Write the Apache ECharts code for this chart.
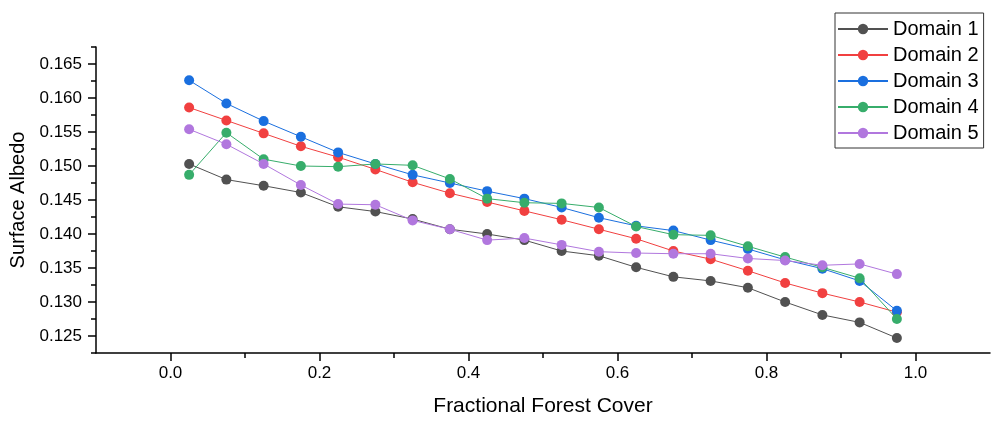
<!DOCTYPE html>
<html>
<head>
<meta charset="utf-8">
<script src="https://cdn.jsdelivr.net/npm/echarts@6/dist/echarts.min.js"></script>
<style>
  html, body { margin: 0; padding: 0; background: #fff; }
  #chart { width: 993px; height: 427px; }
</style>
</head>
<body>
<div id="chart"></div>
<script>
// Fractional forest cover bin centres
const coverBins = [0.025, 0.075, 0.125, 0.175, 0.225, 0.275, 0.325, 0.375, 0.425, 0.475,
                   0.525, 0.575, 0.625, 0.675, 0.725, 0.775, 0.825, 0.875, 0.925, 0.975];

// Mean surface albedo per bin, one array per domain
const domain1 = [0.1503, 0.1480, 0.1471, 0.1461, 0.1440, 0.1433, 0.1422, 0.1407, 0.1400, 0.1391,
                 0.1375, 0.1368, 0.1351, 0.1337, 0.1331, 0.1321, 0.1300, 0.1281, 0.1270, 0.1247];
const domain2 = [0.1586, 0.1567, 0.1548, 0.1529, 0.1513, 0.1495, 0.1476, 0.1460, 0.1447, 0.1434,
                 0.1421, 0.1407, 0.1393, 0.1375, 0.1363, 0.1346, 0.1328, 0.1313, 0.1300, 0.1285];
const domain3 = [0.1626, 0.1592, 0.1566, 0.1543, 0.1520, 0.1503, 0.1487, 0.1475, 0.1463, 0.1452,
                 0.1439, 0.1424, 0.1412, 0.1405, 0.1391, 0.1378, 0.1362, 0.1349, 0.1331, 0.1287];
const domain4 = [0.1487, 0.1549, 0.1510, 0.1500, 0.1499, 0.1503, 0.1501, 0.1481, 0.1452, 0.1446,
                 0.1445, 0.1439, 0.1411, 0.1399, 0.1398, 0.1382, 0.1366, 0.1351, 0.1335, 0.1275];
const domain5 = [0.1554, 0.1532, 0.1503, 0.1472, 0.1444, 0.1443, 0.1420, 0.1407, 0.1391, 0.1394,
                 0.1384, 0.1374, 0.1372, 0.1371, 0.1371, 0.1364, 0.1361, 0.1354, 0.1356, 0.1341];

const seriesNames = ['Domain 1', 'Domain 2', 'Domain 3', 'Domain 4', 'Domain 5'];
const seriesColors = ['#515151', '#F14040', '#1A6FDF', '#37AD6B', '#B177DE'];
const seriesValues = [domain1, domain2, domain3, domain4, domain5];

// Axis ticks and labels
const xMajorTicks = [0.0, 0.2, 0.4, 0.6, 0.8, 1.0];
const xMinorTicks = [0.1, 0.3, 0.5, 0.7, 0.9];
const yMajorTicks = [0.125, 0.130, 0.135, 0.140, 0.145, 0.150, 0.155, 0.160, 0.165];
const yMinorTicks = [0.1225, 0.1275, 0.1325, 0.1375, 0.1425, 0.1475, 0.1525, 0.1575, 0.1625, 0.1675];

const FONT = 'Liberation Sans, Arial, sans-serif';
const X_MIN = -0.1, X_MAX = 1.1, Y_MIN = 0.1225, Y_MAX = 0.1675;

const chart = echarts.init(document.getElementById('chart'), null, { renderer: 'canvas' });

const series = seriesNames.map((name, i) => ({
  name: name,
  type: 'line',
  xAxisIndex: 0,
  yAxisIndex: 0,
  data: coverBins.map((x, j) => [x, seriesValues[i][j]]),
  symbol: 'circle',
  symbolSize: 10,
  showSymbol: true,
  color: seriesColors[i],
  lineStyle: { width: 1, color: seriesColors[i] },
  itemStyle: { color: seriesColors[i] },
  emphasis: { disabled: true },
  z: 2 + i
}));

chart.setOption({
  animation: false,
  backgroundColor: '#ffffff',
  grid: { left: 96, right: 3, top: 47, bottom: 74, containLabel: false },
  legend: {
    orient: 'vertical',
    left: 835,
    top: 13,
    padding: [6, 5, 5, 2],
    itemGap: 6,
    itemWidth: 50,
    itemHeight: 13,
    borderColor: '#333',
    borderWidth: 1,
    textStyle: { fontFamily: FONT, fontSize: 20, color: '#000' },
    data: seriesNames
  },
  xAxis: [{
    type: 'value',
    min: X_MIN, max: X_MAX,
    name: 'Fractional Forest Cover',
    nameLocation: 'middle',
    nameGap: 43,
    nameTextStyle: { fontFamily: FONT, fontSize: 21, color: '#000' },
    axisLine: { show: true, onZero: false, lineStyle: { color: '#000', width: 1.5 } },
    axisTick: { show: true, length: 8, customValues: xMajorTicks, lineStyle: { color: '#000', width: 1.5 } },
    axisLabel: { customValues: xMajorTicks, margin: 12, fontFamily: FONT, fontSize: 17, color: '#000',
                 formatter: v => v.toFixed(1) },
    splitLine: { show: false }
  }, {
    type: 'value',
    min: X_MIN, max: X_MAX,
    position: 'bottom',
    axisLine: { show: false, onZero: false },
    axisTick: { show: true, length: 5, customValues: xMinorTicks, lineStyle: { color: '#000', width: 1.5 } },
    axisLabel: { show: false },
    splitLine: { show: false }
  }],
  yAxis: [{
    type: 'value',
    min: Y_MIN, max: Y_MAX,
    name: 'Surface Albedo',
    nameLocation: 'middle',
    nameGap: 68,
    nameRotate: 90,
    nameTextStyle: { fontFamily: FONT, fontSize: 20, color: '#000' },
    axisLine: { show: true, onZero: false, lineStyle: { color: '#000', width: 1.5 } },
    axisTick: { show: true, length: 8, customValues: yMajorTicks, lineStyle: { color: '#000', width: 1.5 } },
    axisLabel: { customValues: yMajorTicks, margin: 14, fontFamily: FONT, fontSize: 17, color: '#000',
                 formatter: v => v.toFixed(3) },
    splitLine: { show: false }
  }, {
    type: 'value',
    min: Y_MIN, max: Y_MAX,
    position: 'left',
    axisLine: { show: false, onZero: false },
    axisTick: { show: true, length: 5, customValues: yMinorTicks, lineStyle: { color: '#000', width: 1.5 } },
    axisLabel: { show: false },
    splitLine: { show: false }
  }],
  series: series
});
</script>
</body>
</html>
